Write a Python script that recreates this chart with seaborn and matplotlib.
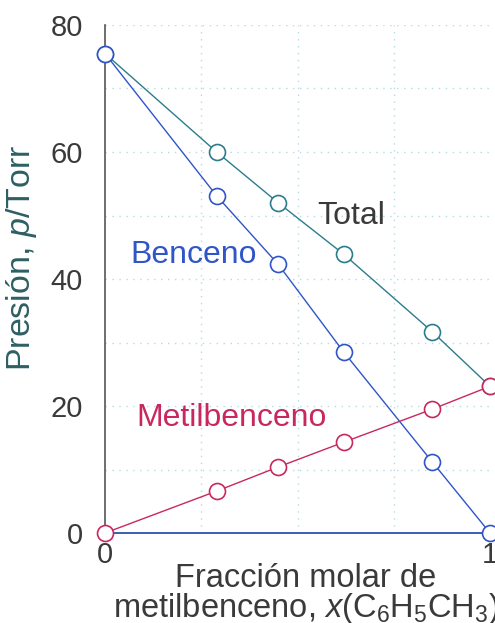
import matplotlib
matplotlib.use("Agg")
import matplotlib.pyplot as plt
import seaborn as sns
import pandas as pd

sns.set_theme(style="white")
plt.rcParams["font.family"] = ["Liberation Sans", "DejaVu Sans"]
plt.rcParams["mathtext.fontset"] = "custom"
plt.rcParams["mathtext.rm"] = "Liberation Sans"
plt.rcParams["mathtext.it"] = "Liberation Sans:italic"

# ── Data ─────────────────────────────────────────────────────────────────────
x_frac    = [0.0, 0.29, 0.45, 0.62, 0.85, 1.0]
p_benceno = [75.5, 53.1, 42.3, 28.5, 11.2, 0.0]
p_metil   = [0.0, 6.6, 10.4, 14.3, 19.5, 23.1]
p_total   = [75.5, 60.0, 52.0, 43.9, 31.7, 23.1]

y_ticks = [0, 20, 40, 60, 80]
x_ticks = [0, 1]

c_benz  = "#2f55c8"
c_tot   = "#2b7d8c"
c_metil = "#c8285f"
c_text  = "#3a3a3a"

df = pd.DataFrame({"x": x_frac, "Benceno": p_benceno,
                   "Metilbenceno": p_metil, "Total": p_total})

fig = plt.figure(figsize=(4.95, 6.23), dpi=100)
ax = fig.add_axes([105 / 495, 90 / 623, 385 / 495, 508 / 623])

mk = dict(marker="o", markersize=11.5, markerfacecolor="white",
          markeredgewidth=1.2, linewidth=1.0, clip_on=False, zorder=3)
for col, c in [("Total", c_tot), ("Benceno", c_benz), ("Metilbenceno", c_metil)]:
    sns.lineplot(data=df, x="x", y=col, ax=ax, color=c, markeredgecolor=c,
                 sort=False, estimator=None, **mk)

ax.set_xlim(0, 1)
ax.set_ylim(0, 80)
ax.set_xticks(x_ticks)
ax.set_xticklabels(["0", "1"])
ax.set_yticks(y_ticks)
ax.set_xticks([0.25, 0.5, 0.75], minor=True)
ax.set_yticks(range(10, 81, 10), minor=True)
ax.tick_params(which="both", length=0)
ax.tick_params(axis="y", pad=16, labelsize=21, labelcolor=c_text)
ax.tick_params(axis="x", pad=6, labelsize=21, labelcolor=c_text)
ax.xaxis.grid(True, which="minor", linestyle=(0, (1, 4)), color="#b5dbe3", linewidth=1.0)
ax.yaxis.grid(True, which="both", linestyle=(0, (1, 4)), color="#b5dbe3", linewidth=1.0)
ax.set_xlabel(""); ax.set_ylabel("")

for s in ["top", "right"]:
    ax.spines[s].set_visible(False)
ax.spines["left"].set_color("#555555")
ax.spines["left"].set_linewidth(1.2)
ax.spines["bottom"].set_color("#3a5fb0")
ax.spines["bottom"].set_linewidth(1.4)

ax.text(0.64, 50, "Total", color=c_text, fontsize=23, ha="center", va="center")
ax.text(0.23, 43.8, "Benceno", color=c_benz, fontsize=23, ha="center", va="center")
ax.text(0.33, 18.1, "Metilbenceno", color=c_metil, fontsize=23, ha="center", va="center")

fig.text(22 / 495, 1 - 258 / 623, "Presión, $p$/Torr", rotation=90,
         color="#2d5f63", fontsize=24.5, ha="center", va="center")
fig.text(306 / 495, 6 / 623,
         "Fracción molar de\nmetilbenceno, $x(\\mathrm{C_6H_5CH_3})$",
         color=c_text, fontsize=23.5, ha="center", va="baseline",
         multialignment="center", linespacing=0.9)

fig.savefig("out.png", dpi=100)
